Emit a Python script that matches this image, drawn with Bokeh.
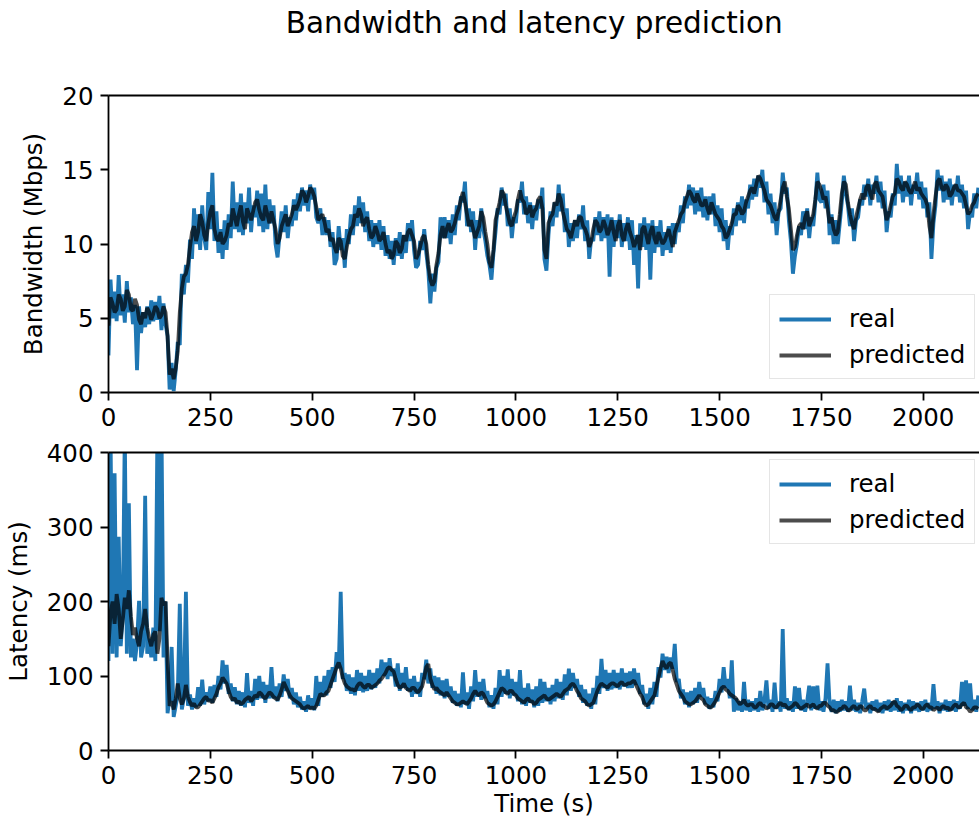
from bokeh.plotting import figure
from bokeh.models import Range1d, LinearAxis, Legend, LegendItem, FixedTicker
from bokeh.core.properties import value
from bokeh.layouts import column
from bokeh.embed import file_html
from bokeh.resources import INLINE

# ---------------- data ----------------
title_text = "Bandwidth and latency prediction"
t = list(range(0, 2140, 5))     # time (s), one sample every 5 s

bw_real = [
    2.5, 7.6, 5.0, 6.8, 4.8, 7.9, 5.2, 6.6, 4.7, 7.5, 5.4, 6.4, 4.6, 5.9, 1.5, 5.8, 4.0, 5.4, 4.4, 5.8,
    4.6, 6.2, 4.8, 6.1, 4.9, 6.5, 4.2, 6.0, 4.6, 3.8, 0.2, 2.0, 0.1, 1.5, 3.4, 3.2, 8.0, 6.6, 8.6, 7.4,
    10.3, 9.0, 12.4, 10.0, 12.0, 9.6, 12.6, 10.4, 9.6, 13.5, 11.0, 14.8, 10.2, 12.2, 9.4, 11.0, 9.0, 11.6, 9.6, 12.0,
    10.4, 14.2, 11.0, 12.8, 10.8, 13.4, 10.6, 12.8, 11.4, 13.8, 10.8, 12.6, 11.8, 13.6, 11.2, 13.4, 10.8, 14.0, 11.0, 13.0,
    11.4, 12.6, 10.0, 9.1, 10.6, 12.2, 10.8, 12.6, 10.4, 11.8, 11.2, 13.0, 11.6, 13.4, 12.2, 13.8, 12.6, 13.6, 12.2, 14.0,
    13.0, 13.8, 11.8, 11.4, 12.4, 10.6, 11.8, 10.6, 11.6, 9.8, 10.8, 8.6, 9.0, 11.2, 9.6, 10.4, 8.4, 11.0, 10.0, 12.0,
    10.6, 12.6, 11.2, 13.2, 11.4, 12.8, 10.8, 12.2, 10.2, 11.6, 9.8, 11.4, 10.0, 11.6, 9.6, 11.2, 9.2, 10.6, 9.0, 10.2,
    8.6, 10.4, 9.2, 10.8, 9.0, 10.6, 9.4, 11.4, 10.2, 11.6, 9.6, 8.4, 8.6, 10.2, 9.6, 11.0, 9.4, 8.2, 6.0, 8.0,
    6.8, 8.4, 8.8, 11.8, 10.4, 11.8, 10.4, 11.6, 10.0, 12.0, 10.6, 12.6, 11.6, 13.2, 12.8, 14.2, 11.2, 12.4, 10.8, 12.2,
    9.6, 11.6, 10.4, 12.4, 11.0, 10.2, 9.2, 8.6, 7.6, 9.4, 10.8, 12.4, 12.0, 13.8, 12.6, 13.4, 11.2, 12.4, 10.4, 11.8,
    11.4, 13.0, 12.8, 14.2, 12.0, 13.2, 11.4, 12.8, 11.0, 12.6, 11.6, 13.0, 12.4, 13.8, 9.0, 8.2, 10.6, 12.2, 11.2, 12.8,
    11.8, 14.0, 12.2, 13.4, 10.8, 12.4, 9.8, 11.4, 10.2, 11.6, 10.4, 12.0, 11.0, 12.6, 10.2, 11.6, 9.0, 10.4, 10.2, 11.8,
    10.6, 12.2, 10.2, 11.8, 10.4, 12.0, 7.8, 11.8, 9.8, 11.6, 10.4, 12.0, 9.8, 11.4, 10.2, 11.8, 9.6, 11.6, 8.6, 10.6,
    7.0, 11.4, 9.8, 11.8, 9.6, 11.4, 7.6, 11.6, 9.4, 11.2, 9.8, 11.6, 9.2, 10.8, 9.6, 11.2, 9.4, 11.4, 10.0, 11.4,
    10.8, 12.6, 11.4, 13.2, 12.4, 14.0, 12.6, 13.8, 12.0, 13.6, 12.2, 13.8, 11.8, 13.2, 11.6, 13.2, 12.0, 13.4, 11.2, 12.6,
    10.8, 12.4, 10.2, 11.6, 9.6, 11.2, 10.6, 12.4, 11.2, 12.8, 11.6, 13.2, 11.4, 13.0, 12.4, 14.0, 13.0, 14.4, 13.2, 14.6,
    13.8, 15.0, 12.8, 14.2, 12.0, 13.4, 11.4, 12.8, 10.6, 12.2, 12.4, 14.8, 13.4, 13.8, 11.6, 10.2, 8.0, 9.2, 10.0, 11.2,
    10.6, 12.2, 11.0, 12.4, 10.4, 11.8, 11.2, 12.8, 14.8, 13.0, 12.8, 14.0, 12.4, 13.6, 10.6, 12.0, 10.0, 11.6, 10.0, 11.4,
    12.8, 14.6, 13.4, 12.6, 11.2, 12.4, 10.2, 11.6, 11.8, 13.0, 12.6, 14.0, 13.2, 14.4, 12.6, 14.0, 13.4, 14.6, 12.8, 14.2,
    12.4, 13.6, 10.8, 12.2, 11.8, 13.4, 12.6, 15.4, 13.4, 14.6, 12.8, 14.2, 13.2, 14.6, 12.6, 14.0, 13.4, 14.8, 13.0, 14.2,
    12.4, 13.8, 11.8, 12.8, 9.0, 11.4, 12.6, 15.0, 13.6, 14.6, 12.8, 14.2, 13.0, 14.4, 12.6, 14.0, 13.2, 14.6, 12.8, 14.0,
    12.4, 13.6, 11.0, 12.2, 11.8, 13.4, 12.4, 13.8,
]

bw_pred = [
    4.5, 6.4, 6.0, 5.4, 5.6, 6.6, 6.3, 5.5, 5.8, 6.9, 6.6, 5.6, 5.5, 6.3, 5.9, 4.9, 4.6, 5.4, 5.0, 5.7,
    5.4, 4.9, 5.3, 5.8, 5.6, 5.0, 5.2, 5.8, 5.4, 3.8, 1.2, 1.6, 0.9, 1.6, 2.8, 5.4, 7.0, 7.8, 8.0, 8.6,
    9.8, 10.8, 11.2, 10.2, 10.8, 12.0, 11.5, 10.6, 10.2, 11.4, 12.2, 12.6, 11.0, 10.4, 10.2, 10.8, 10.0, 10.2, 10.6, 11.4,
    11.2, 12.4, 11.8, 11.2, 12.0, 12.6, 11.5, 11.0, 12.4, 12.0, 11.6, 12.2, 12.8, 13.0, 12.3, 11.8, 11.6, 12.6, 12.0, 11.4,
    12.2, 11.6, 11.0, 10.0, 10.4, 11.2, 11.6, 12.0, 11.2, 11.6, 12.0, 12.6, 12.3, 12.6, 13.0, 13.6, 13.4, 12.8, 13.2, 13.8,
    13.6, 13.2, 12.5, 11.6, 11.8, 12.0, 11.5, 10.8, 11.0, 10.2, 10.4, 9.8, 9.4, 10.4, 10.2, 9.2, 9.0, 9.8, 10.5, 11.0,
    11.2, 12.0, 11.8, 12.4, 12.0, 11.2, 11.6, 11.8, 11.0, 10.4, 10.6, 11.2, 10.8, 10.2, 10.4, 10.8, 10.0, 9.4, 9.6, 9.0,
    9.3, 10.2, 10.0, 9.4, 9.7, 10.6, 10.2, 10.8, 11.0, 10.6, 10.2, 9.0, 9.3, 9.8, 10.4, 10.6, 10.0, 8.6, 7.6, 7.2,
    7.5, 8.6, 9.4, 10.6, 11.2, 10.4, 11.0, 11.4, 10.8, 11.0, 11.4, 12.0, 12.4, 13.0, 13.5, 12.8, 12.0, 11.2, 11.6, 11.0,
    10.4, 10.8, 11.2, 12.2, 11.8, 10.8, 10.0, 8.8, 8.4, 9.6, 11.6, 12.2, 12.8, 13.6, 13.4, 12.6, 12.0, 11.4, 11.2, 11.8,
    12.2, 13.0, 13.6, 13.0, 12.8, 12.0, 12.2, 12.6, 11.8, 12.2, 12.4, 13.0, 13.2, 12.4, 9.6, 9.0, 11.4, 11.8, 12.0, 12.8,
    12.6, 13.4, 13.0, 12.2, 11.6, 11.0, 10.8, 10.4, 11.0, 11.6, 11.2, 11.8, 11.8, 11.2, 11.0, 10.6, 9.8, 10.2, 11.0, 11.6,
    11.4, 10.8, 11.0, 11.6, 11.2, 10.6, 11.0, 11.6, 10.8, 10.2, 11.2, 11.6, 10.6, 10.2, 11.0, 11.4, 10.8, 10.4, 9.8, 10.2,
    10.6, 9.6, 11.0, 11.2, 10.6, 10.0, 10.8, 11.2, 10.4, 10.0, 10.8, 10.4, 10.0, 10.2, 10.6, 11.0, 10.4, 9.8, 10.8, 11.2,
    11.6, 12.0, 12.2, 12.8, 13.2, 13.6, 13.4, 13.0, 12.8, 13.4, 13.0, 12.6, 12.6, 13.0, 12.4, 12.0, 12.8, 12.4, 12.0, 11.8,
    11.6, 11.2, 11.0, 10.4, 10.6, 11.0, 11.4, 12.0, 12.0, 12.6, 12.4, 12.0, 12.2, 12.8, 13.2, 13.6, 13.8, 13.4, 14.0, 14.6,
    14.4, 14.0, 13.6, 13.0, 12.8, 12.6, 12.2, 11.8, 11.6, 12.2, 13.0, 13.8, 14.2, 13.2, 12.4, 11.0, 9.6, 9.8, 10.6, 11.2,
    11.4, 11.0, 11.8, 12.2, 11.2, 11.6, 12.0, 13.0, 14.2, 14.0, 13.6, 13.0, 13.2, 12.4, 11.4, 11.8, 11.0, 10.6, 10.8, 12.0,
    13.4, 14.2, 14.0, 12.8, 12.0, 11.4, 11.0, 11.8, 12.4, 13.0, 13.4, 13.0, 13.8, 14.0, 13.4, 13.0, 14.0, 14.2, 13.6, 13.4,
    13.2, 12.4, 11.6, 12.0, 12.6, 13.2, 13.4, 14.4, 14.2, 13.8, 13.6, 14.2, 14.0, 13.6, 13.4, 13.8, 14.2, 13.6, 13.8, 13.4,
    13.2, 13.0, 12.6, 11.2, 10.4, 12.0, 13.2, 14.2, 14.4, 13.8, 13.6, 14.0, 13.8, 13.2, 13.4, 13.8, 14.0, 13.6, 13.6, 13.4,
    13.2, 12.6, 12.0, 12.2, 12.6, 12.8, 13.2, 13.4,
]

lat_real = [
    120, 430, 130, 372, 125, 287, 140, 180, 430, 130, 332, 125, 150, 120, 145, 201, 125, 140, 342, 130,
    150, 125, 165, 120, 430, 160, 440, 125, 200, 50, 70, 139, 45, 60, 75, 197, 55, 70, 213, 60,
    75, 55, 70, 58, 85, 60, 95, 62, 78, 66, 86, 64, 88, 72, 100, 82, 121, 90, 115, 76,
    90, 66, 85, 62, 80, 60, 78, 58, 104, 64, 80, 60, 96, 68, 100, 70, 92, 64, 88, 70,
    112, 70, 86, 66, 90, 72, 102, 80, 96, 70, 84, 62, 78, 58, 72, 55, 66, 52, 74, 56,
    70, 54, 100, 60, 92, 72, 100, 74, 108, 84, 112, 92, 132, 110, 213, 96, 104, 80, 102, 76,
    98, 74, 108, 80, 104, 78, 100, 80, 108, 82, 104, 84, 110, 90, 122, 100, 118, 96, 124, 100,
    110, 86, 117, 80, 104, 84, 112, 80, 96, 72, 100, 76, 92, 72, 104, 96, 122, 90, 110, 84,
    100, 76, 98, 74, 94, 70, 96, 72, 86, 64, 80, 60, 76, 58, 105, 62, 78, 56, 86, 66,
    108, 72, 92, 68, 96, 70, 80, 58, 74, 56, 84, 62, 108, 72, 100, 76, 109, 70, 96, 74,
    92, 66, 108, 62, 84, 60, 90, 64, 82, 58, 86, 60, 96, 64, 92, 66, 84, 62, 88, 66,
    96, 70, 92, 68, 102, 74, 110, 80, 104, 84, 96, 72, 88, 64, 82, 60, 76, 56, 84, 62,
    100, 76, 123, 84, 108, 80, 104, 82, 108, 84, 104, 82, 110, 86, 104, 84, 106, 84, 110, 88,
    104, 76, 88, 62, 76, 56, 84, 62, 92, 72, 112, 98, 130, 108, 126, 104, 125, 110, 143, 92,
    96, 70, 82, 62, 78, 58, 80, 62, 84, 64, 92, 72, 84, 62, 72, 56, 70, 58, 80, 66,
    96, 78, 112, 84, 96, 70, 121, 52, 70, 54, 66, 52, 92, 54, 68, 52, 66, 54, 70, 52,
    80, 54, 66, 94, 56, 68, 52, 91, 56, 66, 52, 163, 56, 70, 54, 66, 52, 86, 56, 84,
    54, 68, 52, 66, 87, 54, 86, 56, 87, 54, 66, 52, 70, 117, 64, 52, 68, 50, 66, 52,
    68, 54, 66, 52, 87, 54, 68, 52, 64, 50, 66, 83, 56, 64, 50, 66, 54, 68, 52, 64,
    50, 66, 54, 68, 52, 66, 54, 70, 52, 66, 50, 64, 54, 68, 50, 66, 54, 64, 52, 66,
    54, 68, 52, 64, 54, 89, 56, 66, 50, 64, 54, 68, 52, 66, 54, 68, 52, 66, 56, 92,
    60, 94, 56, 90, 54, 68, 52, 74,
]

lat_pred = [
    140, 185, 200, 170, 210, 190, 150, 175, 205, 190, 215, 180, 155, 165, 150, 140, 160, 170, 190, 165,
    150, 140, 155, 160, 130, 150, 205, 195, 200, 120, 60, 66, 55, 70, 90, 70, 62, 70, 88, 72,
    65, 60, 63, 58, 58, 62, 66, 70, 72, 66, 68, 64, 70, 76, 85, 90, 98, 94, 90, 80,
    72, 68, 70, 64, 66, 62, 64, 68, 70, 72, 66, 70, 74, 72, 78, 76, 72, 70, 74, 78,
    76, 72, 70, 68, 74, 82, 92, 86, 80, 74, 70, 68, 66, 64, 62, 58, 56, 58, 60, 56,
    58, 56, 60, 68, 76, 74, 74, 78, 80, 88, 96, 104, 112, 118, 110, 98, 90, 86, 84, 82,
    82, 80, 86, 90, 90, 86, 84, 88, 88, 84, 86, 88, 90, 94, 96, 100, 104, 110, 112, 108,
    106, 96, 88, 84, 86, 90, 84, 82, 80, 84, 84, 80, 78, 82, 86, 98, 112, 116, 96, 88,
    82, 84, 80, 78, 76, 74, 78, 74, 70, 66, 64, 62, 62, 64, 66, 64, 62, 66, 70, 76,
    80, 76, 74, 78, 76, 70, 64, 62, 60, 62, 66, 72, 78, 84, 82, 78, 76, 80, 80, 76,
    74, 70, 68, 66, 64, 68, 70, 66, 66, 62, 64, 68, 70, 72, 74, 70, 68, 70, 72, 74,
    76, 74, 72, 76, 80, 82, 84, 88, 90, 86, 80, 76, 70, 68, 66, 62, 60, 62, 64, 72,
    80, 86, 90, 88, 86, 84, 88, 90, 90, 88, 86, 90, 92, 88, 88, 90, 90, 92, 94, 88,
    82, 76, 72, 64, 60, 62, 66, 70, 74, 86, 98, 110, 120, 114, 110, 116, 118, 108, 96, 88,
    80, 76, 72, 66, 64, 62, 62, 64, 66, 70, 74, 70, 68, 62, 60, 58, 58, 62, 66, 72,
    78, 84, 86, 82, 80, 76, 74, 72, 70, 66, 62, 64, 68, 62, 60, 62, 62, 58, 58, 62,
    64, 60, 60, 56, 58, 62, 62, 58, 58, 62, 64, 60, 62, 58, 56, 58, 60, 64, 62, 58,
    56, 58, 60, 62, 58, 60, 62, 58, 56, 60, 60, 64, 64, 60, 58, 54, 54, 52, 52, 56,
    56, 60, 58, 54, 54, 58, 60, 56, 56, 60, 58, 54, 54, 58, 60, 56, 56, 54, 52, 56,
    58, 60, 56, 58, 60, 64, 66, 60, 58, 54, 56, 60, 60, 56, 54, 58, 58, 62, 60, 56,
    56, 60, 62, 58, 58, 54, 56, 58, 54, 58, 60, 56, 58, 54, 56, 60, 62, 58, 58, 62,
    64, 58, 56, 52, 54, 58, 58, 56,
]

x_ticks = [0, 250, 500, 750, 1000, 1250, 1500, 1750, 2000]
bw_ticks = [0, 5, 10, 15, 20]
lat_ticks = [0, 100, 200, 300, 400]

# ---------------- style ----------------
FONT = "DejaVu Sans"
FS = "24.5px"
BLUE = "#1f77b4"
LW = 3.8
W = 979
TITLE_H = 75

xr = Range1d(0, 2138)


def style(p, yticks, ylabel, xlabel=None):
    p.outline_line_color = None
    p.xgrid.visible = False
    p.ygrid.visible = False
    p.background_fill_color = "white"
    p.border_fill_color = "white"
    p.xaxis.ticker = FixedTicker(ticks=x_ticks)
    p.yaxis.ticker = FixedTicker(ticks=yticks)
    for ax in (p.xaxis, p.yaxis):
        ax.axis_line_width = 1.8
        ax.axis_line_color = "black"
        ax.major_tick_line_width = 1.8
        ax.major_tick_line_color = "black"
        ax.major_tick_out = 8
        ax.major_tick_in = 0
        ax.minor_tick_line_color = None
        ax.major_label_text_font = FONT
        ax.major_label_text_font_size = FS
        ax.major_label_text_color = "black"
        ax.major_label_standoff = 7
        ax.axis_label_text_font = FONT
        ax.axis_label_text_font_size = FS
        ax.axis_label_text_font_style = "normal"
        ax.axis_label_text_color = "black"
    p.yaxis.axis_label = ylabel
    p.yaxis.axis_label_standoff = 11
    if xlabel:
        p.xaxis.axis_label = xlabel
        p.xaxis.axis_label_standoff = 2
    top = LinearAxis(ticker=FixedTicker(ticks=[]), major_tick_out=0, major_tick_in=0,
                     major_label_text_font_size="0px", major_label_standoff=0,
                     minor_tick_line_color=None,
                     axis_line_width=1.8, axis_line_color="black")
    p.add_layout(top, "above")


def add_legend(p, r_real, r_pred, loc):
    lg = Legend(items=[LegendItem(label="real", renderers=[r_real]),
                       LegendItem(label="predicted", renderers=[r_pred])],
                location=loc, orientation="vertical",
                label_text_font=FONT, label_text_font_size=FS,
                label_text_color="black", label_standoff=18,
                glyph_width=52, glyph_height=28, spacing=7, padding=9,
                border_line_color="#cccccc", border_line_width=1.5,
                background_fill_color="white", background_fill_alpha=0.8)
    p.add_layout(lg)


# ---------------- title strip (same x scale as the panels) ----------------
p0 = figure(width=W, height=TITLE_H, x_range=xr, y_range=Range1d(0, TITLE_H),
            output_backend="svg", toolbar_location=None,
            x_axis_type=None, y_axis_type=None,
            min_border_left=108, min_border_right=0, min_border_top=0, min_border_bottom=0)
p0.outline_line_color = None
p0.xgrid.visible = False
p0.ygrid.visible = False
p0.text(x=[1045], y=[TITLE_H - 22], text=[title_text], text_align="center",
        text_baseline="middle", text_font=value(FONT),
        text_font_size="29.5px", text_color="black")

# ---------------- top: bandwidth ----------------
p1 = figure(width=W, height=440 - TITLE_H, x_range=xr, y_range=Range1d(0, 20),
            output_backend="svg", toolbar_location=None,
            min_border_left=108, min_border_right=0, min_border_top=95 - TITLE_H,
            min_border_bottom=48)
style(p1, bw_ticks, "Bandwidth (Mbps)")
r1 = p1.line(t, bw_real, line_color=BLUE, line_width=LW)
r2 = p1.line(t, bw_pred, line_color="black", line_alpha=0.7, line_width=LW)
add_legend(p1, r1, r2, (661, 13))

# ---------------- bottom: latency ----------------
p2 = figure(width=W, height=386, x_range=xr, y_range=Range1d(0, 400),
            output_backend="svg", toolbar_location=None,
            min_border_left=108, min_border_right=0, min_border_top=12,
            min_border_bottom=76)
style(p2, lat_ticks, "Latency (ms)", "Time (s)")
r3 = p2.line(t, lat_real, line_color=BLUE, line_width=LW)
r4 = p2.line(t, lat_pred, line_color="black", line_alpha=0.7, line_width=LW)
add_legend(p2, r3, r4, (661, 206))

layout = column(p0, p1, p2)
open("out.html", "w").write(file_html(layout, INLINE))
